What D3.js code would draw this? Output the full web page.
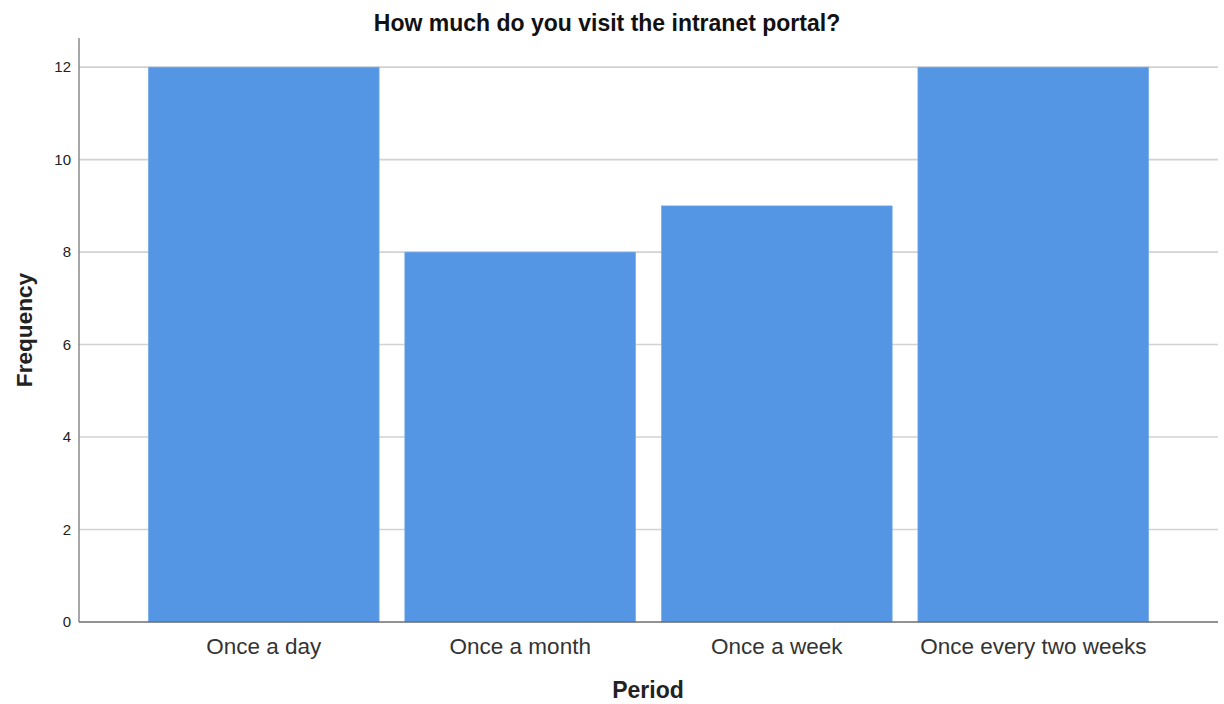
<!DOCTYPE html>
<html><head><meta charset="utf-8">
<script src="https://cdn.jsdelivr.net/npm/d3@7"></script>
<style>body{margin:0;background:#fff;font-family:"Liberation Sans",Arial,sans-serif;}</style>
</head><body>
<svg id="c" width="1224" height="704"></svg>
<script>
const categories = ["Once a day","Once a month","Once a week","Once every two weeks"];
const values = [12, 8, 9, 12];
const yTicks = [0,2,4,6,8,10,12];
const title = "How much do you visit the intranet portal?";
const xTitle = "Period", yTitle = "Frequency";

const svg = d3.select("#c");
const mLeft = 79, mRight = 1218, mTop = 38, mBottom = 622;
const x = d3.scaleBand().domain(categories).range([mLeft, mRight]).paddingInner(0.1).paddingOuter(0.27);
const y = d3.scaleLinear().domain([0, 12.63]).range([mBottom, mTop]);

// gridlines
svg.append("g").selectAll("line").data(yTicks.filter(d=>d>0)).join("line")
  .attr("x1", mLeft).attr("x2", mRight).attr("y1", d=>y(d)).attr("y2", d=>y(d))
  .attr("stroke", "#d2d2d2").attr("stroke-width", 1.6);

// bars
svg.append("g").selectAll("rect").data(values).join("rect")
  .attr("x", (d,i)=>x(categories[i])).attr("width", x.bandwidth())
  .attr("y", d=>y(d)).attr("height", d=>y(0)-y(d))
  .attr("fill", "#5596e4").attr("stroke", "#7eb0ec").attr("stroke-width", 0.6);

// y axis
const ya = svg.append("g").attr("transform", `translate(${mLeft},0)`)
  .call(d3.axisLeft(y).tickValues(yTicks).tickSize(0).tickPadding(8));
ya.select(".domain").remove();
ya.selectAll("text").attr("font-family", "Liberation Sans, Arial, sans-serif").attr("font-size", 15).attr("fill", "#222");
svg.append("line").attr("x1", mLeft).attr("x2", mLeft).attr("y1", mTop).attr("y2", mBottom)
  .attr("stroke", "#8a8a8a").attr("stroke-width", 1.5);

// x axis
const xa = svg.append("g").attr("transform", `translate(0,${mBottom})`)
  .call(d3.axisBottom(x).tickSize(0).tickPadding(12));
xa.select(".domain").remove();
xa.selectAll("text").attr("font-family", "Liberation Sans, Arial, sans-serif").attr("font-size", 22.5).attr("fill", "#333")
  .attr("dy", null).attr("y", 32);
svg.append("line").attr("x1", mLeft).attr("x2", mRight).attr("y1", mBottom).attr("y2", mBottom)
  .attr("stroke", "#6e6e6e").attr("stroke-width", 1.5);

// titles
svg.append("text").attr("x", 607).attr("y", 31).attr("text-anchor", "middle")
  .attr("font-size", 23).attr("font-weight", "bold").attr("fill", "#111").text(title);
svg.append("text").attr("x", 648).attr("y", 698).attr("text-anchor", "middle")
  .attr("font-size", 23).attr("font-weight", "bold").attr("fill", "#222").text(xTitle);
svg.append("text").attr("transform", "translate(32,330) rotate(-90)").attr("text-anchor", "middle")
  .attr("font-size", 22.6).attr("font-weight", "bold").attr("fill", "#222").text(yTitle);
</script>
</body></html>
